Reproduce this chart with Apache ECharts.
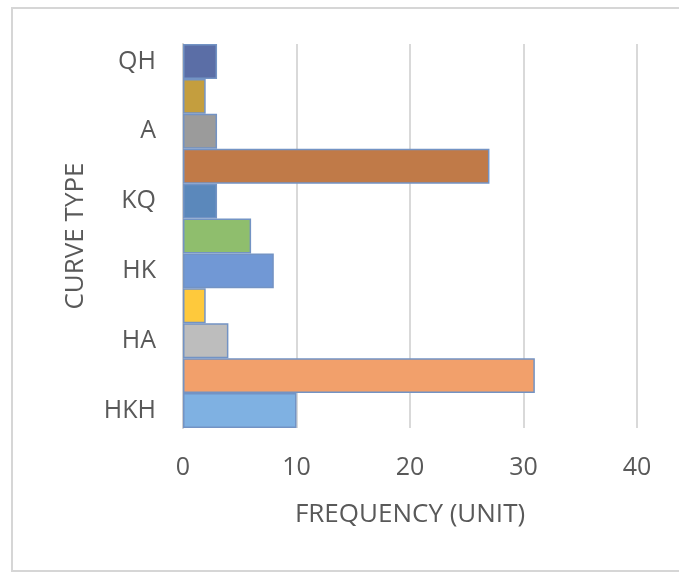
<!DOCTYPE html>
<html>
<head>
<meta charset="utf-8">
<script src="https://cdn.jsdelivr.net/npm/echarts@6/dist/echarts.min.js"></script>
<style>
html,body{margin:0;padding:0;background:#fff;}
#chart{width:679px;height:572px;}
</style>
</head>
<body>
<div id="chart"></div>
<script>
// Categories (bottom to top); only every other one carries a visible tick label
const categories = ['HKH', 'b2', 'HA', 'b4', 'HK', 'b6', 'KQ', 'b8', 'A', 'b10', 'QH'];
const tickLabels = ['HKH', 'HA', 'HK', 'KQ', 'A', 'QH'];
const values = [10, 31, 4, 2, 8, 6, 3, 27, 3, 2, 3];
const barColors = ['#7fb1e2', '#f2a06b', '#bdbdbd', '#fec93c', '#7198d5', '#8fbe6d',
                   '#5b88bb', '#c07a48', '#9b9b9b', '#c49e3e', '#5b6ea6'];
const xTicks = [0, 10, 20, 30, 40];

const chart = echarts.init(document.getElementById('chart'));
const font = '"Open Sans", sans-serif';
chart.setOption({
  animation: false,
  backgroundColor: '#fff',
  graphic: [{
    type: 'rect',
    shape: { x: 12, y: 8, width: 700, height: 563 },
    style: { fill: 'none', stroke: '#d6d6d6', lineWidth: 2 },
    silent: true
  }],
  grid: { left: 183, right: 42, top: 44, bottom: 144 },
  xAxis: {
    type: 'value',
    min: xTicks[0],
    max: xTicks[xTicks.length - 1],
    interval: 10,
    name: 'FREQUENCY (UNIT)',
    nameLocation: 'middle',
    nameGap: 74,
    nameTextStyle: { color: '#595959', fontSize: 26, fontFamily: font },
    axisLine: { show: false },
    axisTick: { show: false },
    axisLabel: { color: '#595959', fontSize: 25, fontFamily: font, margin: 27 },
    splitLine: { show: true, lineStyle: { color: '#d9d9d9', width: 2 } }
  },
  yAxis: {
    type: 'category',
    data: categories,
    name: 'CURVE TYPE',
    nameLocation: 'middle',
    nameGap: 94,
    nameRotate: 90,
    nameTextStyle: { color: '#595959', fontSize: 26, fontFamily: font },
    axisLine: { show: true, lineStyle: { color: '#d0d0d0', width: 2 } },
    axisTick: { show: false },
    axisLabel: {
      color: '#595959', fontSize: 25, fontFamily: font, margin: 27, interval: 0,
      formatter: v => (tickLabels.indexOf(v) >= 0 ? v : '')
    },
    splitLine: { show: false }
  },
  series: [{
    type: 'bar',
    data: values.map((v, i) => ({ value: v, itemStyle: { color: barColors[i] } })),
    barCategoryGap: '0%',
    itemStyle: { borderColor: '#7393c4', borderWidth: 1.5 }
  }]
});
</script>
</body>
</html>
